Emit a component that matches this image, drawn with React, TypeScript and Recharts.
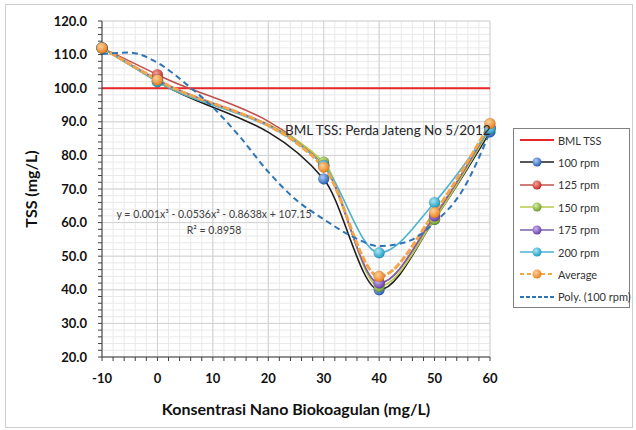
import React from 'react';
import { LineChart, Line, XAxis, YAxis, CartesianGrid, ReferenceLine } from 'recharts';

// Measured TSS at each coagulant dose
const DOSES = [-10, 0, 30, 40, 50, 60];
const RPM_100 = [112, 102, 73, 40, 61, 87];
const RPM_125 = [112, 104, 77, 42, 62, 88];
const RPM_150 = [112, 102, 78, 41, 61, 88];
const RPM_175 = [112, 102.5, 77, 42, 62, 88.5];
const RPM_200 = [112, 102, 77, 51, 66, 88];
const AVERAGE = [112, 102.5, 76.5, 44, 63, 89.5];

// Polynomial trendline (100 rpm)
const POLY_X = [-10, -5, 0, 5, 10, 15, 20, 25, 30, 35, 40, 45, 50, 55, 60];
const POLY_Y = [110.2, 110.6, 107.6, 101.5, 94.3, 85.3, 75.1, 66.8, 61, 56, 53, 54.3, 60, 69.5, 87];

const BML_LIMIT = 100;

const X_TICKS = [-10, -8, -6, -4, -2, 0, 2, 4, 6, 8, 10, 12, 14, 16, 18, 20, 22, 24, 26, 28, 30, 32, 34, 36, 38, 40, 42, 44, 46, 48, 50, 52, 54, 56, 58, 60];
const Y_TICKS = [20, 22, 24, 26, 28, 30, 32, 34, 36, 38, 40, 42, 44, 46, 48, 50, 52, 54, 56, 58, 60, 62, 64, 66, 68, 70, 72, 74, 76, 78, 80, 82, 84, 86, 88, 90, 92, 94, 96, 98, 100, 102, 104, 106, 108, 110, 112, 114, 116, 118, 120];
const MAJOR_X = [-10, 0, 10, 20, 30, 40, 50, 60];
const MAJOR_Y = [20, 30, 40, 50, 60, 70, 80, 90, 100, 110, 120];

const series = [
  { key: 'r100', name: '100 rpm', values: RPM_100, line: '#1e1e1e', light: '#a9cdf7', dark: '#2b5fb4', width: 1.6 },
  { key: 'r125', name: '125 rpm', values: RPM_125, line: '#c0504d', light: '#f4a49a', dark: '#c42a22', width: 1.6 },
  { key: 'r150', name: '150 rpm', values: RPM_150, line: '#b8c94a', light: '#d6efa0', dark: '#6f9e2c', width: 1.6 },
  { key: 'r175', name: '175 rpm', values: RPM_175, line: '#7a5fae', light: '#c9b4ee', dark: '#6a3fae', width: 1.6 },
  { key: 'r200', name: '200 rpm', values: RPM_200, line: '#4bb3d0', light: '#a9e6f5', dark: '#1f9dc2', width: 1.6 },
  { key: 'avg', name: 'Average', values: AVERAGE, line: '#f2a54a', light: '#fbd29a', dark: '#e9801f', width: 3, dash: '7 2' },
];

// one row per x, missing values left undefined and bridged with connectNulls
const rows = (() => {
  const xs = Array.from(new Set([...DOSES, ...POLY_X])).sort((a, b) => a - b);
  return xs.map(x => {
    const row: Record<string, number | undefined> = { x };
    const i = DOSES.indexOf(x);
    series.forEach(s => {
      row[s.key] = i >= 0 ? s.values[i] : undefined;
    });
    const p = POLY_X.indexOf(x);
    row.poly = p >= 0 ? POLY_Y[p] : undefined;
    return row;
  });
})();

const tickStyle = { fontSize: 13, fontWeight: 700, fill: '#111', fontFamily: 'Lato, sans-serif' };

const legendItems = [
  { name: 'BML TSS', line: '#e8262b', width: 2, dash: undefined as string | undefined, ball: '' },
  ...series.map(s => ({
    name: s.name,
    line: s.line,
    width: s.key === 'avg' ? 2 : 1.5,
    dash: s.key === 'avg' ? '4 3' : undefined,
    ball: s.key,
  })),
  { name: 'Poly. (100 rpm)', line: '#2e75b6', width: 2, dash: '4 2', ball: '' },
];

const LegendBox = () => (
  <div
    style={{
      position: 'absolute',
      left: 513,
      top: 128,
      border: '1px solid #7f7f7f',
      background: '#fff',
      width: 115,
      height: 178,
      fontSize: 11,
      color: '#333',
    }}
  >
    {legendItems.map((item, i) => (
      <div key={item.name} style={{ position: 'absolute', left: 0, top: 2 + i * 22.4, height: 18, display: 'flex', alignItems: 'center' }}>
        <svg width={44} height={18} style={{ display: 'block' }}>
          <line x1={6} y1={9} x2={40} y2={9} stroke={item.line} strokeWidth={item.width} strokeDasharray={item.dash} />
          {item.ball && <circle cx={23} cy={9} r={4.5} fill={`url(#ball-${item.ball})`} />}
        </svg>
        <span style={{ whiteSpace: 'nowrap' }}>{item.name}</span>
      </div>
    ))}
  </div>
);

export default function App() {
  return (
    <div style={{ position: 'absolute', left: 0, top: 0, width: 636, height: 430, background: '#fff', fontFamily: 'Lato, sans-serif' }}>
      <svg width={0} height={0} style={{ position: 'absolute' }}>
        <defs>
          {series.map(s => (
            <radialGradient key={s.key} id={`ball-${s.key}`} cx="38%" cy="35%" r="65%">
              <stop offset="0%" stopColor={s.light} />
              <stop offset="100%" stopColor={s.dark} />
            </radialGradient>
          ))}
        </defs>
      </svg>
      <div style={{ position: 'absolute', left: 5, top: 4, width: 626, height: 422, border: '1px solid #cfcfcf' }} />
      <div style={{ position: 'absolute', left: 0, top: 0 }}>
        <LineChart width={636} height={430} data={rows} margin={{ top: 21, right: 146, bottom: 43, left: 52 }}>
          <CartesianGrid stroke="#e9e9e9" strokeWidth={1} />
          {MAJOR_X.map(v => (
            <ReferenceLine key={`gx${v}`} x={v} stroke="#d2d2d2" strokeWidth={1} />
          ))}
          {MAJOR_Y.map(v => (
            <ReferenceLine key={`gy${v}`} y={v} stroke="#d2d2d2" strokeWidth={1} />
          ))}
          <XAxis
            dataKey="x"
            type="number"
            domain={[-10, 60]}
            ticks={X_TICKS}
            interval={0}
            height={30}
            tickSize={4}
            tickMargin={13}
            stroke="#404040"
            tick={tickStyle}
            tickFormatter={(v: number) => (v % 10 === 0 ? String(v) : '')}
          />
          <YAxis
            type="number"
            domain={[20, 120]}
            ticks={Y_TICKS}
            interval={0}
            width={50}
            tickSize={4}
            tickMargin={11}
            stroke="#404040"
            tick={tickStyle}
            tickFormatter={(v: number) => (v % 10 === 0 ? v.toFixed(1) : '')}
          />
          <ReferenceLine y={BML_LIMIT} stroke="#e8262b" strokeWidth={2} />
          {series.map(s => (
            <Line
              key={s.key}
              dataKey={s.key}
              name={s.name}
              type="monotone"
              stroke={s.line}
              strokeWidth={s.width}
              strokeDasharray={s.dash}
              connectNulls
              dot={{ r: 5.5, fill: `url(#ball-${s.key})`, stroke: 'rgba(0,0,0,0.2)', strokeWidth: 0.5, strokeDasharray: '' }}
              activeDot={false}
              isAnimationActive={false}
            />
          ))}
          <Line
            dataKey="poly"
            name="Poly. (100 rpm)"
            type="monotone"
            stroke="#2e75b6"
            strokeWidth={2}
            strokeDasharray="6 4"
            connectNulls
            dot={false}
            activeDot={false}
            isAnimationActive={false}
          />
        </LineChart>
      </div>
      <LegendBox />
      <div style={{ position: 'absolute', left: 285, top: 122, fontSize: 13.5, color: '#262626', whiteSpace: 'nowrap' }}>
        BML TSS: Perda Jateng No 5/2012
      </div>
      <div style={{ position: 'absolute', left: 114, top: 206, width: 200, textAlign: 'center', fontSize: 10.5, color: '#404040', whiteSpace: 'nowrap', lineHeight: '16px' }}>
        <div>y = 0.001x³ - 0.0536x² - 0.8638x + 107.15</div>
        <div>R² = 0.8958</div>
      </div>
      <div
        style={{
          position: 'absolute',
          left: 30,
          top: 189,
          transform: 'translate(-50%, -50%) rotate(-90deg)',
          fontSize: 16,
          fontWeight: 700,
          color: '#111',
          whiteSpace: 'nowrap',
        }}
      >
        TSS (mg/L)
      </div>
      <div
        style={{
          position: 'absolute',
          left: 296,
          top: 408,
          transform: 'translate(-50%, -50%)',
          fontSize: 16,
          fontWeight: 700,
          color: '#111',
          whiteSpace: 'nowrap',
        }}
      >
        Konsentrasi Nano Biokoagulan (mg/L)
      </div>
    </div>
  );
}
